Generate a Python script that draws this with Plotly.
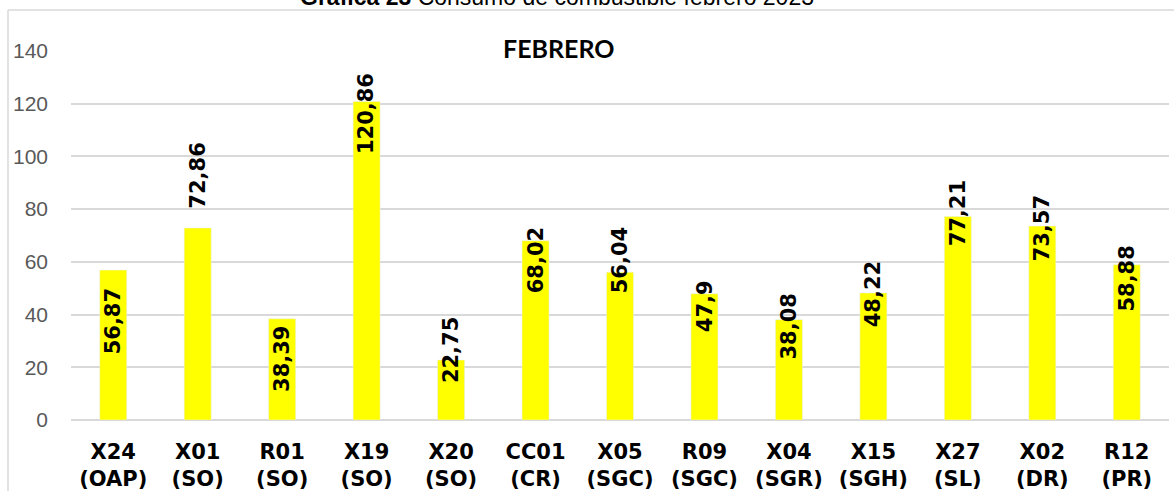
import plotly.graph_objects as go

# Datos del gráfico
unidades = ["X24", "X01", "R01", "X19", "X20", "CC01", "X05", "R09", "X04", "X15", "X27", "X02", "R12"]
areas = ["OAP", "SO", "SO", "SO", "SO", "CR", "SGC", "SGC", "SGR", "SGH", "SL", "DR", "PR"]
consumo = [56.87, 72.86, 38.39, 120.86, 22.75, 68.02, 56.04, 47.9, 38.08, 48.22, 77.21, 73.57, 58.88]

categorias = [f"{u}<br>({a})" for u, a in zip(unidades, areas)]

# desplazamiento vertical (px) de cada etiqueta respecto al tope de su barra
ajuste_etiqueta = [-51, 52, -40, -12, 10, -20, 12, -12, -7, -1, 3, -2, -14]

GRIS = "#d9d9d9"
AMARILLO = "#ffff00"

fig = go.Figure()
fig.add_trace(go.Bar(
    x=categorias,
    y=consumo,
    marker_color=AMARILLO,
    width=0.32,
    hoverinfo="skip",
))

# Etiquetas de datos giradas
for cat, val, dy in zip(categorias, consumo, ajuste_etiqueta):
    fig.add_annotation(
        x=cat, y=val, yshift=dy,
        text=f"{val:g}".replace(".", ","),
        textangle=-90,
        showarrow=False,
        xanchor="center", yanchor="middle",
        font=dict(family="DejaVu Sans", size=21, color="black", weight="bold"),
    )

# Título del bloque y título de la gráfica (cortado arriba)
fig.add_annotation(
    xref="paper", yref="paper", x=0.444, y=1, yshift=3,
    text="<b>FEBRERO</b>", showarrow=False,
    xanchor="center", yanchor="middle",
    font=dict(family="Lato", size=25, color="black"),
)
fig.add_annotation(
    xref="paper", yref="paper", x=0.443, y=1, yshift=39,
    text="<b>Gráfica 23</b> Consumo de combustible febrero 2023", showarrow=False,
    xanchor="center", yanchor="bottom",
    font=dict(family="Liberation Sans", size=23, color="black"),
)

# Borde del área del gráfico (arriba e izquierda)
ancho_plot = 1169 - 71
alto_plot = 420 - 51
fig.add_shape(type="line", xref="paper", yref="paper",
              x0=(8 - 71) / ancho_plot, x1=(1180 - 71) / ancho_plot,
              y0=(420 - 10) / alto_plot, y1=(420 - 10) / alto_plot,
              line=dict(color=GRIS, width=1.5))
fig.add_shape(type="line", xref="paper", yref="paper",
              x0=(8 - 71) / ancho_plot, x1=(8 - 71) / ancho_plot,
              y0=(420 - 10) / alto_plot, y1=(420 - 500) / alto_plot,
              line=dict(color=GRIS, width=1.5))

fig.update_layout(
    width=1174, height=491,
    margin=dict(l=71, r=5, t=51, b=71, autoexpand=False),
    plot_bgcolor="white", paper_bgcolor="white",
    showlegend=False,
)
fig.update_xaxes(
    showgrid=False, showline=False, zeroline=False,
    tickfont=dict(family="DejaVu Sans", size=21, color="black", weight="bold"),
    ticklabelstandoff=17,
    range=[-0.5, 12.5],
    automargin=False,
)
fig.update_yaxes(
    range=[0, 140], dtick=20,
    showgrid=True, gridcolor=GRIS, gridwidth=1.5,
    zeroline=True, zerolinecolor=GRIS, zerolinewidth=1.5,
    showline=False,
    tickfont=dict(family="Liberation Sans", size=21, color="#595959"),
    ticklabelstandoff=22,
    automargin=False,
)

# sin margen del body para que la figura quede en la esquina de la ventana
fig.write_html("out.html", config={"displayModeBar": False},
               post_script="document.body.style.margin='0';")
